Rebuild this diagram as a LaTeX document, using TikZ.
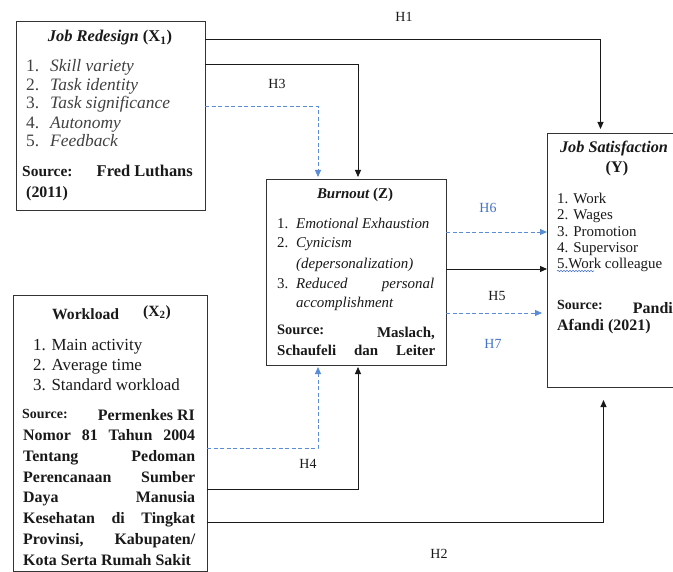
\documentclass[tikz,border=0pt]{standalone}
\usepackage{fontspec}
\setmainfont{Liberation Serif}
\usetikzlibrary{arrows.meta,calc,decorations.pathmorphing}
\definecolor{hblue}{RGB}{68,114,196}
\definecolor{dblue}{RGB}{91,141,214}
\newcommand\fsz[1]{\fontsize{#1}{#1}\selectfont}
\tikzset{
  box/.style={draw=black!80, line width=0.9bp, inner sep=0pt, outer sep=0pt, anchor=north west},
  conn/.style={draw=black!90, line width=0.9bp, -{Triangle[length=7bp,width=6bp]}},
  dconn/.style={draw=dblue, line width=0.9bp, dash pattern=on 4bp off 2.5bp, -{Triangle[length=7bp,width=6bp]}},
  txt/.style={inner sep=0pt, anchor=base west, text=black!90},
  rtxt/.style={inner sep=0pt, anchor=base east, text=black!90},
  ctxt/.style={inner sep=0pt, anchor=base, text=black!90},
  hlab/.style={inner sep=0pt, anchor=base, font=\fsz{14}, text=black!90},
  blab/.style={hlab, text=hblue}
}
\begin{document}
\begin{tikzpicture}[x=1bp,y=-1bp]
\useasboundingbox (0,0) rectangle (673,572);
% boxes
\node[box, minimum width=189bp, minimum height=189bp] (x1) at (16,21) {};
\node[box, minimum width=180bp, minimum height=186bp] (z) at (266,179) {};
\node[box, minimum width=128bp, minimum height=254bp] (ysat) at (547,133) {};
\node[box, minimum width=194bp, minimum height=276bp] (x2) at (13,295) {};

% ---- Job Redesign text
\node[ctxt, font=\fsz{16.5}\bfseries] (x1t) at (110,42) {\itshape Job Redesign \upshape(X\textsubscript{1})};
\foreach \n/\t/\yy in {1/Skill variety/72, 2/Task identity/91, 3/Task significance/109, 4/Autonomy/129, 5/Feedback/147}{
  \node[txt, font=\fsz{17.5}, text=black!75] (x1n\n) at (26,\yy) {\n.};
  \node[txt, font=\fsz{17.5}\itshape, text=black!75] (x1i\n) at (50,\yy) {\t};
}
\node[txt, font=\fsz{15.5}\bfseries] (x1s) at (22,177) {Source:};
\node[rtxt, font=\fsz{16.5}\bfseries] (x1a) at (193,177) {Fred Luthans};
\node[txt, font=\fsz{16}\bfseries] (x1y) at (26,198) {(2011)};

% ---- Burnout text
\node[ctxt, font=\fsz{15}\bfseries] (zt) at (355,199) {\itshape Burnout \upshape(Z)};
\node[txt, font=\fsz{15}] (zn1) at (277,228) {1.};
\node[txt, font=\fsz{15}\itshape] (zi1) at (296,228) {Emotional Exhaustion};
\node[txt, font=\fsz{15}] (zn2) at (277,247) {2.};
\node[txt, font=\fsz{15}\itshape] (zi2) at (296,247) {Cynicism};
\node[txt, font=\fsz{15}\itshape] (zi2b) at (296,268) {(depersonalization)};
\node[txt, font=\fsz{15}] (zn3) at (277,288) {3.};
\node[txt, font=\fsz{15}\itshape] (zi3) at (296,288) {\hbox to 138bp{Reduced\hfill personal}};
\node[txt, font=\fsz{15}\itshape] (zi3b) at (296,307) {accomplishment};
\node[txt, font=\fsz{14.5}\bfseries] (zs) at (277,334) {Source:};
\node[rtxt, font=\fsz{15}\bfseries] (za) at (435,337) {Maslach,};
\node[txt, font=\fsz{15}\bfseries] (zb) at (277,355) {\hbox to 158bp{Schaufeli\hfill dan\hfill Leiter}};

% ---- Job Satisfaction text
\node[ctxt, font=\fsz{16.3}\bfseries\itshape] (yt) at (614,153) {Job Satisfaction};
\node[ctxt, font=\fsz{16.3}\bfseries] (yt2) at (617,173) {(Y)};
\foreach \n/\t/\yy in {1/1. Work/203, 2/2. Wages/219, 3/3. Promotion/236, 4/4. Supervisor/252, 5/5.Work colleague/268}{
  \node[txt, font=\fsz{15}] (yi\n) at (557,\yy) {\t};
}
\draw[hblue, line width=0.6bp, decorate, decoration={snake, amplitude=0.7bp, segment length=3bp}] (557,271) -- (594,271);
\node[txt, font=\fsz{14}\bfseries] (ys) at (557,309) {Source:};
\node[rtxt, font=\fsz{16}\bfseries] (ya) at (673,313) {Pandi};
\node[txt, font=\fsz{16}\bfseries] (yb) at (557,330) {Afandi (2021)};

% ---- Workload text
\node[txt, font=\fsz{15.7}\bfseries] (x2t) at (52,319) {Workload};
\node[txt, font=\fsz{15.7}\bfseries] (x2t2) at (143,316) {(X\textsubscript{2})};
\foreach \n/\t/\yy in {1/1. Main activity/350, 2/2. Average time/370, 3/3. Standard workload/390}{
  \node[txt, font=\fsz{17}] (x2i\n) at (33,\yy) {\t};
}
\node[txt, font=\fsz{14}\bfseries] (x2s) at (22,418) {Source:};
\node[rtxt, font=\fsz{16}\bfseries] (x2a) at (195,420) {Permenkes RI};
\foreach \n/\t/\yy in {1/{Nomor\hfill 81\hfill Tahun\hfill 2004}/440,
                        2/{Tentang\hfill Pedoman}/461,
                        3/{Perencanaan\hfill Sumber}/482,
                        4/{Daya\hfill Manusia}/502,
                        5/{Kesehatan\hfill di\hfill Tingkat}/523,
                        6/{Provinsi,\hfill Kabupaten/}/544}{
  \node[txt, font=\fsz{16}\bfseries] (x2l\n) at (23,\yy) {\hbox to 172bp{\t}};
}
\node[txt, font=\fsz{16}\bfseries] (x2l7) at (23,565) {Kota Serta Rumah Sakit};

% ---- connectors
\coordinate (h1s) at ([yshift=-18bp]x1.north east);
\coordinate (h3s) at ([yshift=-43bp]x1.north east);
\coordinate (d1s) at ([yshift=-85bp]x1.north east);
\draw[conn] (h1s) -| ([xshift=-10.5bp,yshift=4bp]ysat.north);
\draw[conn] (h3s) -| ([xshift=2bp,yshift=2bp]z.north);
\draw[dconn] (d1s) -| ([xshift=-38bp,yshift=2bp]z.north);

\coordinate (h6s) at ([yshift=-53bp]z.north east);
\coordinate (h5s) at ([yshift=-90bp]z.north east);
\coordinate (h7s) at ([yshift=-134bp]z.north east);
\draw[dconn] (h6s) -- (h6s -| ysat.west);
\draw[conn] (h5s) -- (h5s -| ysat.west);
\draw[dconn] (h7s) -- ($(h7s -| ysat.west)+(-5,0)$);

\coordinate (d2s) at ([yshift=-153bp]x2.north east);
\coordinate (h4s) at ([yshift=-194bp]x2.north east);
\coordinate (h2s) at ([yshift=-227bp]x2.north east);
\draw[dconn] (d2s) -| ([xshift=-38bp,yshift=-2bp]z.south);
\draw[conn] (h4s) -| ([xshift=2bp,yshift=-2bp]z.south);
\draw[conn] (h2s) -| ([xshift=-7.5bp,yshift=-13bp]ysat.south);

% ---- labels
\node[hlab] (lh1) at (404,22) {H1};
\node[hlab] (lh3) at (277,89) {H3};
\node[blab] (lh6) at (488,212) {H6};
\node[hlab] (lh5) at (497,300) {H5};
\node[blab] (lh7) at (493,348) {H7};
\node[hlab] (lh4) at (308,468) {H4};
\node[hlab] (lh2) at (439,558) {H2};
\end{tikzpicture}
\end{document}
